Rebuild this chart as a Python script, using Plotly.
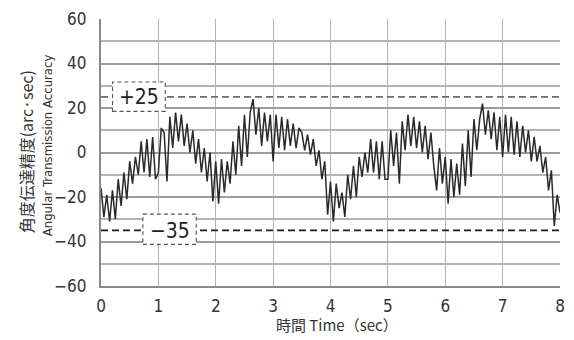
import numpy as np
import plotly.graph_objects as go

# Sample spacing of the measured signal (seconds)
step = 0.05

# Angular transmission error, arc-sec, sampled every 0.05 s from 0 to 8 s
error = [
    -16, -29, -19, -31, -17, -30, -12, -24, -9, -21,
    -4, -14, -2, -10, 5, -9, 6, -11, 7, -12,
    -9, 11, 9, -13, 16, 2, 18, 5, 17, 3,
    13, 0, 10, -5, 6, -9, 2, -13, 0, -22,
    -4, -23, -3, -18, -4, -14, 5, -10, 12, -6,
    17, -2, 18, 24, 8, 20, 3, 18, 5, 17,
    -4, 17, 2, 16, 1, 15, 3, 13, 2, 11,
    9, 1, 8, -1, 6, -6, 1, -12, -4, -28,
    -13, -31, -14, -25, -18, -29, -10, -21, -6, -20,
    -2, -11, 0, -9, 6, -9, 5, -12, 5, -12,
    -12, 10, -6, 9, -14, 14, 1, 17, 3, 16,
    2, 14, 0, 12, -3, 9, -6, -17, 2, -14,
    -2, -23, -3, -20, -5, -19, 4, -15, 10, -11,
    15, 1, 15, 22, 8, 19, 6, 18, 1, 16,
    -2, 17, 0, 16, -1, 14, -2, 12, 0, 10,
    -4, 7, -4, 3, -9, -2, -17, -8, -33, -19,
    -27,
]
time = np.arange(len(error)) * step

upper_limit = 25
lower_limit = -35

x_ticks = [0, 1, 2, 3, 4, 5, 6, 7, 8]
y_ticks = [-60, -40, -20, 0, 20, 40, 60]
y_minor = [-50, -30, -10, 10, 30, 50]

FONT = "Liberation Sans Narrow, DejaVu Sans Condensed, Roboto, sans-serif"
CJK = "Noto Sans CJK JP, sans-serif"

W, H = 574, 340
L, R, T, B = 101, 9, 12, 54


def px_x(x):
    """Horizontal page pixel -> paper coordinate."""
    return (x - L) / (W - L - R)


def px_y(y):
    """Vertical page pixel (from top) -> paper coordinate."""
    return (H - y - B) / (H - T - B)


fig = go.Figure()

# Empty trace on an overlaid axis that carries the light 10-step gridlines
fig.add_trace(go.Scatter(x=[None], y=[None], yaxis="y2", mode="lines",
                         hoverinfo="skip", showlegend=False))

fig.add_trace(go.Scatter(
    x=time, y=error, mode="lines",
    line=dict(color="#2a2a2a", width=1.5),
    hoverinfo="skip", showlegend=False,
))

# Tolerance limits
fig.add_shape(type="line", xref="x", yref="y", x0=0, x1=8,
              y0=upper_limit, y1=upper_limit,
              line=dict(color="#6e6e6e", width=1.6, dash="7px,4px"))
fig.add_shape(type="line", xref="x", yref="y", x0=0, x1=8,
              y0=lower_limit, y1=lower_limit,
              line=dict(color="#1e1e1e", width=1.6, dash="7px,4px"))

# Dashed label boxes over the limit lines
fig.add_shape(type="rect", xref="x", yref="y", x0=0.2, x1=1.12,
              y0=18.5, y1=31.7, fillcolor="white", layer="above",
              line=dict(color="#555555", width=1.1, dash="4px,3px"))
fig.add_shape(type="rect", xref="x", yref="y", x0=0.73, x1=1.66,
              y0=-41.3, y1=-27.7, fillcolor="white", layer="above",
              line=dict(color="#555555", width=1.1, dash="4px,3px"))
fig.add_annotation(x=0.66, y=upper_limit, xref="x", yref="y",
                   text="+25", showarrow=False,
                   xanchor="center", yanchor="middle",
                   font=dict(family=FONT, size=21, color="#222222"))
fig.add_annotation(x=1.195, y=lower_limit - 0.5, xref="x", yref="y",
                   text="−35", showarrow=False,
                   xanchor="center", yanchor="middle",
                   font=dict(family=FONT, size=21, color="#222222"))

# Axis titles
fig.add_annotation(x=px_x(340), y=px_y(326), xref="paper", yref="paper",
                   text="時間 Time（sec）", showarrow=False,
                   xanchor="center", yanchor="middle",
                   font=dict(family=CJK, size=15, color="#333333"))
fig.add_annotation(x=px_x(25), y=px_y(148), xref="paper", yref="paper",
                   text="角度伝達精度(arc·sec)", showarrow=False,
                   textangle=-90, xanchor="center", yanchor="middle",
                   font=dict(family=CJK, size=16, color="#333333"))
fig.add_annotation(x=px_x(47), y=px_y(142), xref="paper", yref="paper",
                   text="Angular Transmission Accuracy", showarrow=False,
                   textangle=-90, xanchor="center", yanchor="middle",
                   font=dict(family=FONT, size=13, color="#333333"))

fig.update_layout(
    width=W, height=H,
    margin=dict(l=L, r=R, t=T, b=B),
    paper_bgcolor="white", plot_bgcolor="white",
    font=dict(family=FONT, size=17, color="#333333"),
    xaxis=dict(range=[0, 8], tickvals=x_ticks, ticks="",
               showgrid=True, gridcolor="#b4b4b4", gridwidth=1.4,
               showline=True, linecolor="#8a8a8a", linewidth=2.2,
               zeroline=False, ticklabelstandoff=3),
    yaxis=dict(range=[-60, 60], tickvals=y_ticks, ticks="",
               showgrid=True, gridcolor="#9c9c9c", gridwidth=1.6,
               showline=True, linecolor="#8a8a8a", linewidth=2.2,
               zeroline=False, ticklabelstandoff=9),
    yaxis2=dict(range=[-60, 60], tickvals=y_minor, overlaying="y",
                side="left", showticklabels=False, ticks="",
                showgrid=True, gridcolor="#b4b4b4", gridwidth=1.5,
                showline=False, zeroline=False),
)

fig.write_html("out.html")
